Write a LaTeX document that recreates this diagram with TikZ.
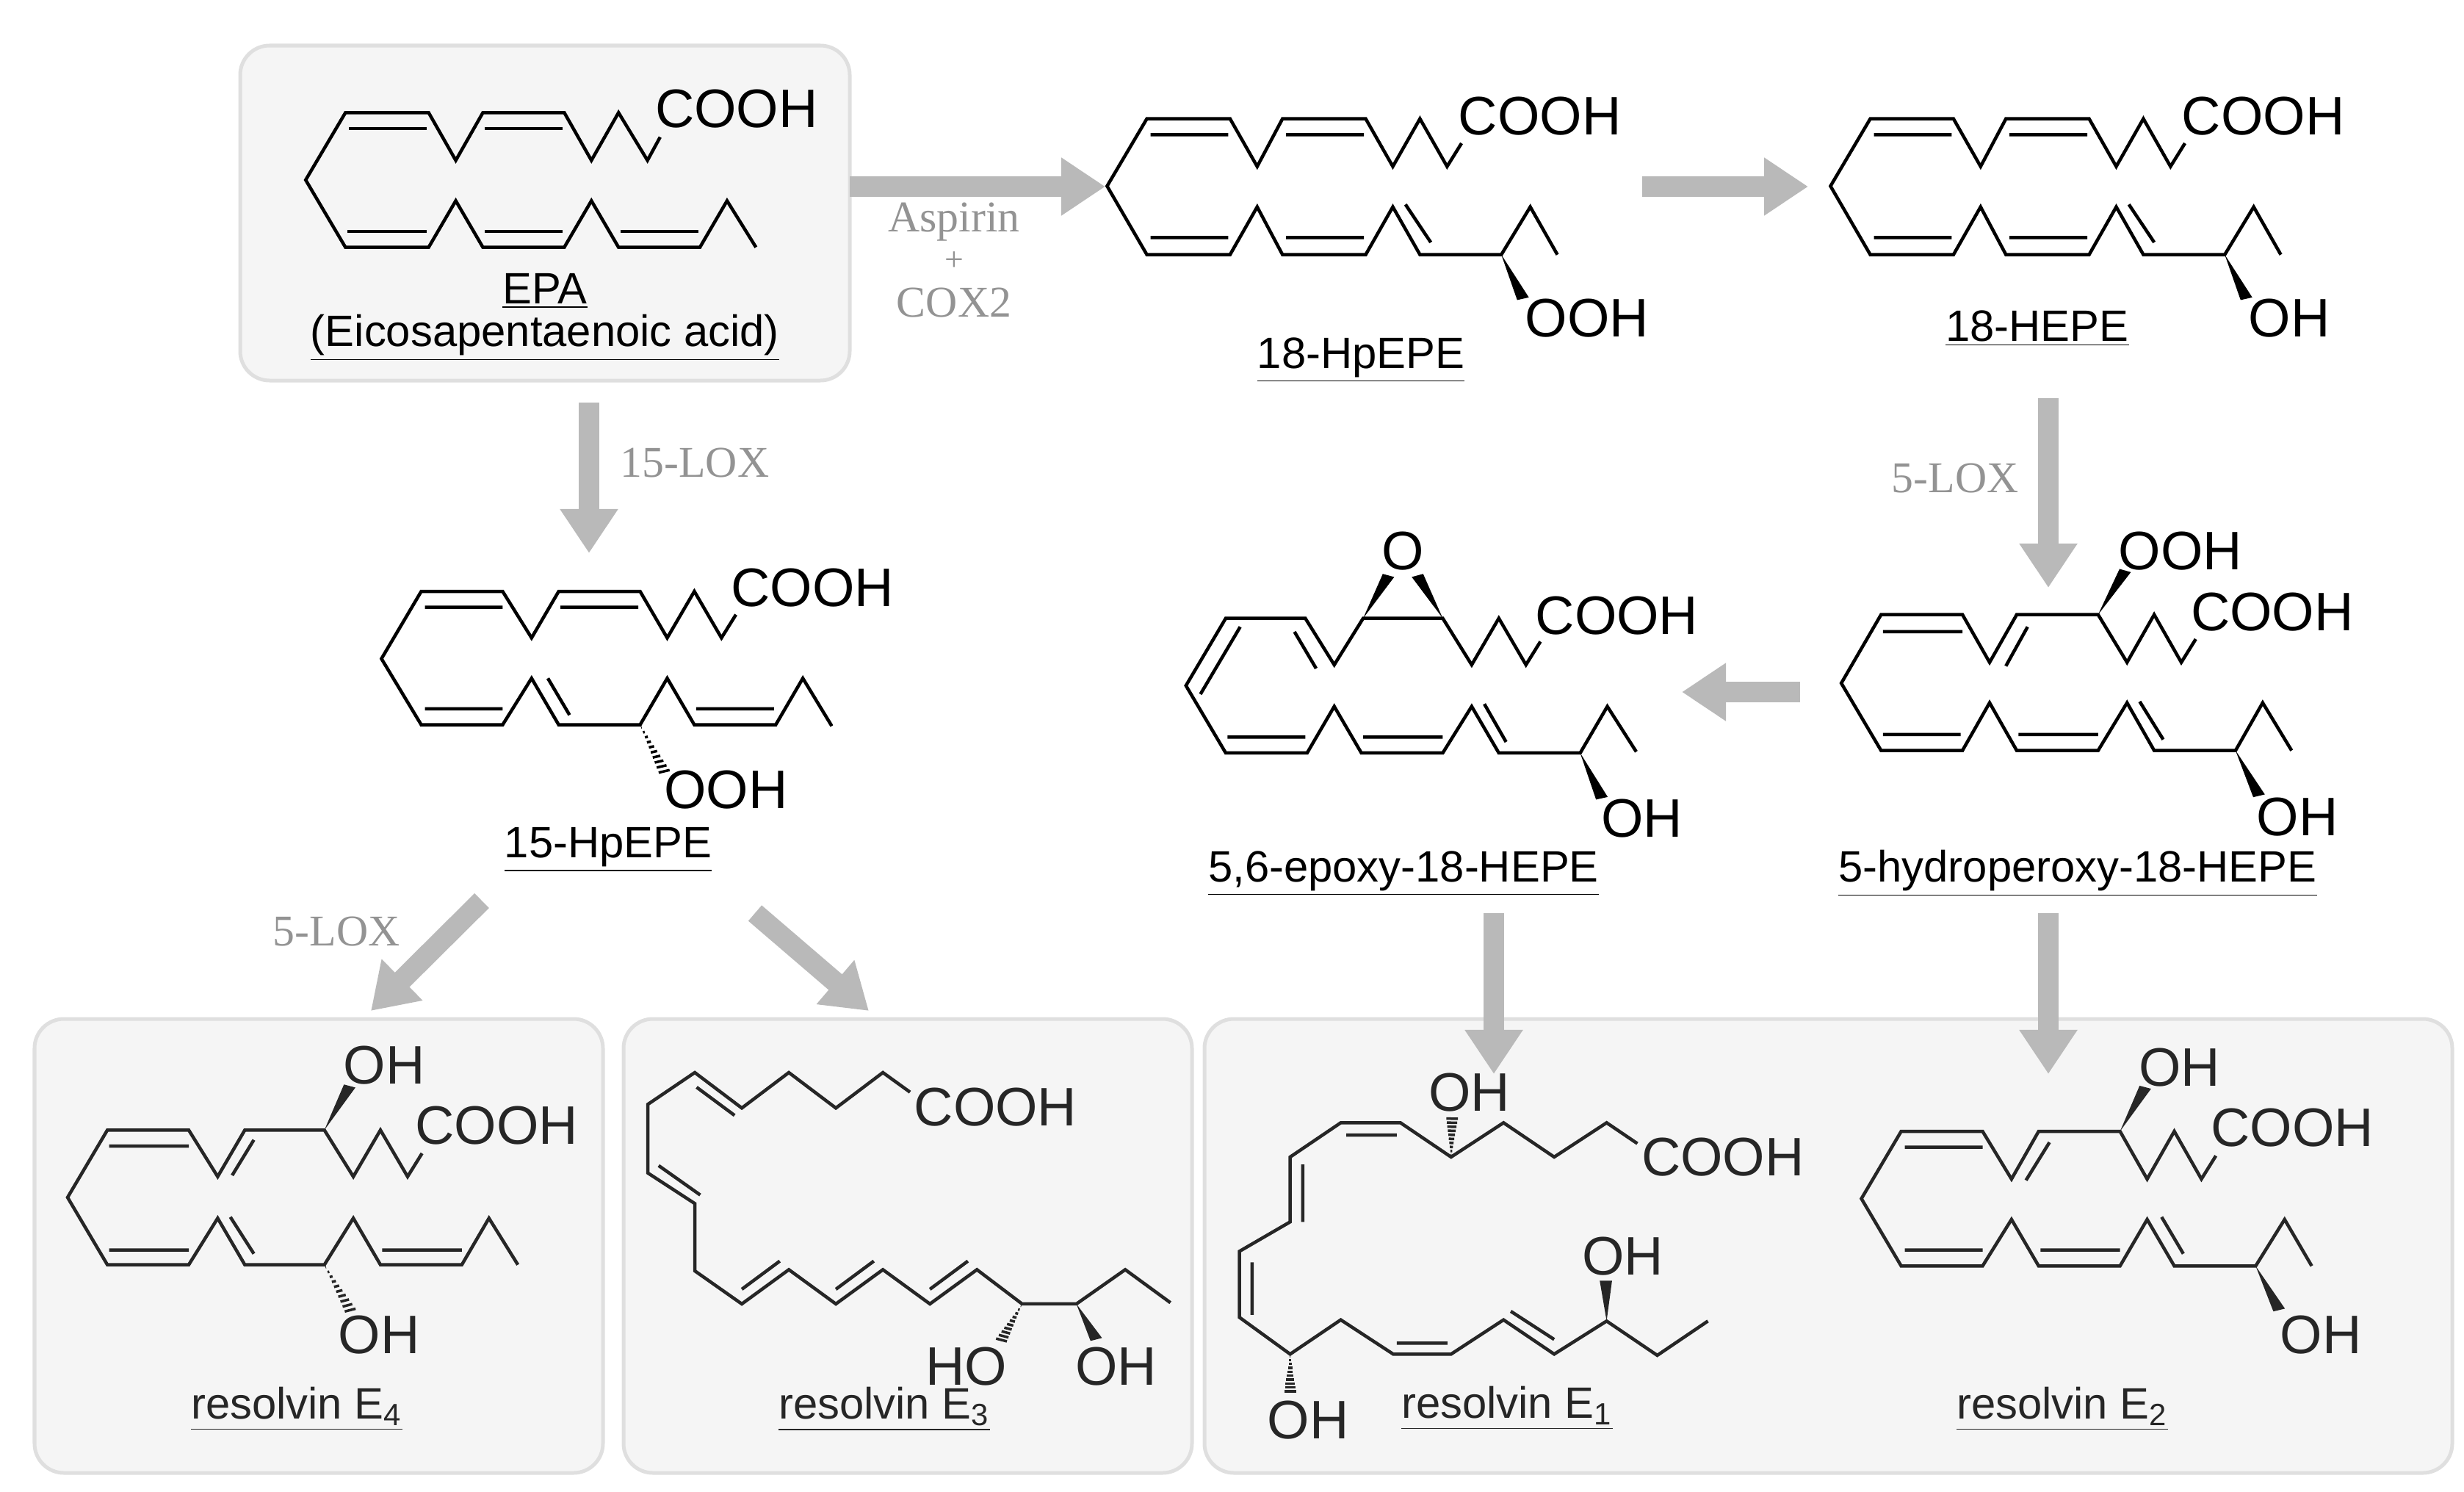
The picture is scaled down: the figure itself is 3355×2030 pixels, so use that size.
\documentclass[tikz,border=0pt]{standalone}
\usepackage{fontspec}
\setmainfont{Liberation Sans}
\newfontfamily\enzfont{Liberation Serif}
\usetikzlibrary{arrows.meta,calc}
\tikzset{bond/.style={line width=0.45mm},
         atom/.style={font=\fontsize{21}{21}\selectfont, inner sep=0pt},
         molname/.style={font=\fontsize{17}{17}\selectfont, inner sep=0pt},
         enzyme/.style={font=\enzfont\fontsize{17}{20}\selectfont, text=gray!85, align=center, inner sep=0pt},
         rxn/.style={draw=gray!55, line width=2.8mm, -{Triangle[width=7.5mm,length=6mm]}},
         panel/.style={fill=gray!8, draw=gray!25, rounded corners=4mm, line width=0.5mm},
         mol/.style={shift={#1}, xscale=0.4925, yscale=0.3333}}
\newcommand{\hashbond}[2]{%
  \coordinate (hA) at (#1); \coordinate (hB) at (#2);
  \foreach \t [evaluate=\t as \w using {\t*4.8}] in {0.05,0.15,...,0.95}
    \draw[line width=0.35mm] ($(hA)!\t!(hB)!\w pt!90:(hB)$) -- ($(hA)!\t!(hB)!\w pt!-90:(hB)$);}
\newcommand{\wedgebond}[2]{%
  \coordinate (wA) at (#1); \coordinate (wB) at (#2);
  \fill (wA) -- ($(wB)!0.17cm!90:(wA)$) -- ($(wB)!0.17cm!-90:(wA)$) -- cycle;}
\begin{document}
\begin{tikzpicture}[x=0.01cm, y=-0.01cm]
  \useasboundingbox (0,0) rectangle (3355,2030);
  % panels
  \draw[panel] (327,62) rectangle (1157,518);
  \draw[panel] (47,1387) rectangle (821,2005);
  \draw[panel] (849,1387) rectangle (1623,2005);
  \draw[panel] (1640,1387) rectangle (3339,2005);
  % reaction steps
  \coordinate (epa-e) at (1157,254);   \coordinate (hp-w) at (1505,254);
  \coordinate (hp-e) at (2236,254);    \coordinate (he-w) at (2462,254);
  \coordinate (epa-s) at (802,548);    \coordinate (lox-n) at (802,753);
  \coordinate (he-s) at (2789,542);    \coordinate (hpo-n) at (2789,800);
  \coordinate (hpo-w) at (2451,942);   \coordinate (epo-e) at (2290,942);
  \coordinate (lox-sw) at (656,1226);  \coordinate (e4-n) at (505,1376);
  \coordinate (lox-se) at (1028,1243); \coordinate (e3-n) at (1183,1376);
  \coordinate (epo-s) at (2034,1243);  \coordinate (e1-n) at (2034,1462);
  \coordinate (hpo-s) at (2789,1243);  \coordinate (e2-n) at (2789,1462);
  \draw[rxn] (epa-e) -- (hp-w);
  \draw[rxn] (hp-e) -- (he-w);
  \draw[rxn] (epa-s) -- (lox-n);
  \draw[rxn] (he-s) -- (hpo-n);
  \draw[rxn] (hpo-w) -- (epo-e);
  \draw[rxn] (lox-sw) -- (e4-n);
  \draw[rxn] (lox-se) -- (e3-n);
  \draw[rxn] (epo-s) -- (e1-n);
  \draw[rxn] (hpo-s) -- (e2-n);
  \node[enzyme] (aspirin) at (1299,302) {Aspirin};
  \node[enzyme, font=\enzfont\fontsize{13}{13}\selectfont] (plus) at (1299,356) {+};
  \node[enzyme] (cox2) at (1299,412) {COX2};
  \node[enzyme] (lox15) at (946,630) {15-LOX};
  \node[enzyme] (lox5a) at (2662,651) {5-LOX};
  \node[enzyme] (lox5b) at (458,1268) {5-LOX};
  % EPA
  \begin{scope}[mol={(330,60)}]
    \draw[bond] (1155,380) -- (1120,475) -- (1040,280) -- (965,475) -- (890,280) -- (665,280) -- (590,475) -- (515,280) -- (285,280) -- (175,555)
      -- (285,830) -- (515,830) -- (590,640) -- (665,830) -- (890,830) -- (965,640) -- (1040,830) -- (1265,830) -- (1340,640) -- (1420,830);
    \draw[bond] (295,345) -- (510,345) (670,345) -- (885,345) (290,765) -- (510,765) (670,765) -- (885,765) (1045,765) -- (1260,765);
    \node[atom, anchor=west] (epa-cooh) at (1140,265) {COOH};
  \end{scope}
  \node[molname] (epa) at (742,396) {\underline{EPA}};
  \node[molname] (epa-full) at (742,460) {\underline{(Eicosapentaenoic acid)}};
  % 18-HpEPE
  \begin{scope}[mol={(1500,100)}]
    \draw[bond] (995,285) -- (955,380) -- (880,185) -- (805,380) -- (730,185) -- (500,185) -- (430,380) -- (355,185) -- (125,185) -- (15,460)
      -- (125,740) -- (355,740) -- (430,545) -- (500,740) -- (730,740) -- (805,545) -- (880,740) -- (1105,740) -- (1185,545) -- (1260,740);
    \draw[bond] (135,250) -- (350,250) (510,250) -- (725,250) (135,670) -- (350,670) (510,670) -- (725,670) (840,535) -- (910,690);
    \wedgebond{1105,740}{1165,920}
    \node[atom, anchor=west] (hp-cooh) at (985,175) {COOH};
    \node[atom, anchor=west] (hp-ooh) at (1170,1000) {OOH};
  \end{scope}
  \node[molname] (hpepe) at (1853,490) {\underline{18-HpEPE}};
  % 18-HEPE
  \begin{scope}[mol={(2485,100)}]
    \draw[bond] (995,285) -- (955,380) -- (880,185) -- (805,380) -- (730,185) -- (500,185) -- (430,380) -- (355,185) -- (125,185) -- (15,460)
      -- (125,740) -- (355,740) -- (430,545) -- (500,740) -- (730,740) -- (805,545) -- (880,740) -- (1105,740) -- (1185,545) -- (1260,740);
    \draw[bond] (135,250) -- (350,250) (510,250) -- (725,250) (135,670) -- (350,670) (510,670) -- (725,670) (840,535) -- (910,690);
    \wedgebond{1105,740}{1165,920}
    \node[atom, anchor=west] (he-cooh) at (985,175) {COOH};
    \node[atom, anchor=west] (he-oh) at (1170,1000) {OH};
  \end{scope}
  \node[molname] (hepe) at (2774,447) {\underline{18-HEPE}};
  % 15-HpEPE
  \begin{scope}[mol={(480,760)}]
    \draw[bond] (1060,230) -- (1020,325) -- (945,135) -- (870,325) -- (795,135) -- (570,135) -- (495,325) -- (415,135) -- (190,135) -- (80,410)
      -- (190,680) -- (415,680) -- (495,490) -- (570,680) -- (795,680) -- (870,490) -- (945,680) -- (1170,680) -- (1245,490) -- (1325,685);
    \draw[bond] (200,200) -- (415,200) (575,200) -- (790,200) (200,615) -- (415,615) (540,490) -- (600,640) (950,615) -- (1165,615);
    \hashbond{795,680}{865,880}
    \node[atom, anchor=west] (lox-cooh) at (1045,120) {COOH};
    \node[atom, anchor=west] (lox-ooh) at (860,945) {OOH};
  \end{scope}
  \node[molname] (hp15) at (828,1157) {\underline{15-HpEPE}};
  % 5,6-epoxy-18-HEPE
  \begin{scope}[mol={(1600,700)}]
    \draw[bond] (1010,520) -- (970,615) -- (895,425) -- (820,615) -- (740,425) -- (520,425) -- (440,615) -- (360,425) -- (140,425) -- (30,700)
      -- (140,975) -- (365,975) -- (440,785) -- (515,975) -- (740,975) -- (820,785) -- (895,975) -- (1120,975) -- (1195,785) -- (1275,970);
    \draw[bond] (180,460) -- (70,735) (330,480) -- (390,630) (145,910) -- (360,910) (520,910) -- (740,910) (855,775) -- (915,930);
    \wedgebond{520,425}{590,250}
    \wedgebond{740,425}{670,250}
    \wedgebond{1120,975}{1180,1160}
    \node[atom] (epo-o) at (630,150) {O};
    \node[atom, anchor=west] (epo-cooh) at (995,415) {COOH};
    \node[atom] (epo-oh) at (1291,1242) {OH};
  \end{scope}
  \node[molname] (epoxy) at (1911,1189) {\underline{5,6-epoxy-18-HEPE}};
  % 5-hydroperoxy-18-HEPE
  \begin{scope}[mol={(2480,700)}]
    \draw[bond] (1035,510) -- (995,605) -- (920,410) -- (845,605) -- (765,410) -- (540,410) -- (465,605) -- (390,410) -- (165,410) -- (55,690)
      -- (165,965) -- (390,965) -- (465,770) -- (540,965) -- (765,965) -- (845,770) -- (920,965) -- (1145,965) -- (1220,770) -- (1300,965);
    \draw[bond] (170,480) -- (390,480) (570,460) -- (510,620) (170,900) -- (385,900) (545,900) -- (765,900) (880,765) -- (945,920);
    \wedgebond{765,410}{840,230}
    \wedgebond{1145,965}{1210,1150}
    \node[atom, anchor=west] (hpo-ooh) at (820,150) {OOH};
    \node[atom, anchor=west] (hpo-cooh) at (1020,400) {COOH};
    \node[atom] (hpo-oh) at (1316,1236) {OH};
  \end{scope}
  \node[molname] (hydroperoxy) at (2829,1189) {\underline{5-hydroperoxy-18-HEPE}};
  % resolvin E4
  \begin{scope}[mol={(60,1400)}, black!85]
    \draw[bond] (1045,510) -- (1005,605) -- (930,415) -- (855,605) -- (775,415) -- (555,415) -- (480,605) -- (400,415) -- (175,415) -- (65,690)
      -- (175,965) -- (400,965) -- (480,775) -- (555,965) -- (775,965) -- (855,775) -- (930,965) -- (1155,965) -- (1230,775) -- (1310,965);
    \draw[bond] (180,480) -- (400,480) (580,455) -- (520,600) (180,905) -- (400,905) (515,770) -- (580,920) (935,905) -- (1155,905);
    \wedgebond{775,415}{845,235}
    \hashbond{775,965}{850,1160}
    \node[atom] (e4-oh1) at (940,150) {OH};
    \node[atom, anchor=west] (e4-cooh) at (1025,395) {COOH};
    \node[atom] (e4-oh2) at (926,1251) {OH};
  \end{scope}
  \node[molname, text=black!85] (rve4) at (404,1918) {\underline{resolvin E\textsubscript{4}}};
  % resolvin E3
  \begin{scope}[mol={(850,1450)}, black!85]
    \draw[bond] (790,110) -- (715,30) -- (585,175) -- (455,30) -- (325,175) -- (195,30) -- (65,160) -- (65,440) -- (195,565) -- (195,840)
      -- (325,975) -- (455,835) -- (585,975) -- (715,835) -- (845,975) -- (975,835) -- (1100,975) -- (1250,975) -- (1385,835) -- (1510,970);
    \draw[bond] (200,90) -- (305,205) (95,410) -- (210,530) (325,915) -- (430,800) (585,915) -- (690,800) (845,915) -- (950,800);
    \hashbond{1100,975}{1040,1130}
    \wedgebond{1250,975}{1305,1120}
    \node[atom, anchor=west] (e3-cooh) at (800,170) {COOH};
    \node[atom] (e3-ho) at (946,1230) {HO};
    \node[atom] (e3-oh) at (1360,1230) {OH};
  \end{scope}
  \node[molname, text=black!85] (rve3) at (1204,1918) {\underline{resolvin E\textsubscript{3}}};
  % resolvin E1
  \begin{scope}[mol={(1700,1450)}, black!85]
    \draw[bond] (1075,320) -- (990,235) -- (845,375) -- (705,235) -- (560,375) -- (420,235) -- (255,235) -- (115,375) -- (115,640) -- (-25,760)
      -- (-25,1030) -- (115,1180) -- (255,1040) -- (400,1180) -- (560,1180) -- (705,1040) -- (845,1180) -- (990,1045) -- (1130,1185) -- (1270,1045);
    \draw[bond] (270,285) -- (410,285) (150,405) -- (150,640) (10,805) -- (10,1020) (410,1135) -- (550,1135) (725,1005) -- (845,1120);
    \hashbond{560,375}{563,210}
    \hashbond{115,1180}{115,1340}
    \wedgebond{990,1045}{988,880}
    \node[atom] (e1-oh1) at (610,110) {OH};
    \node[atom, anchor=west] (e1-cooh) at (1085,375) {COOH};
    \node[atom] (e1-oh2) at (1035,780) {OH};
    \node[atom] (e1-oh3) at (165,1450) {OH};
  \end{scope}
  \node[molname, text=black!85] (rve1) at (2052,1917) {\underline{resolvin E\textsubscript{1}}};
  % resolvin E2
  \begin{scope}[mol={(2500,1420)}, black!85]
    \draw[bond] (1050,460) -- (1010,555) -- (935,360) -- (860,555) -- (785,360) -- (560,360) -- (485,555) -- (405,360) -- (180,360) -- (70,635)
      -- (180,910) -- (405,910) -- (485,720) -- (560,910) -- (785,910) -- (860,720) -- (935,910) -- (1160,910) -- (1240,720) -- (1315,910);
    \draw[bond] (190,425) -- (405,425) (590,405) -- (525,560) (190,845) -- (405,845) (565,845) -- (785,845) (900,710) -- (960,860);
    \wedgebond{785,360}{855,180}
    \wedgebond{1160,910}{1225,1090}
    \node[atom] (e2-oh1) at (950,100) {OH};
    \node[atom, anchor=west] (e2-cooh) at (1035,345) {COOH};
    \node[atom] (e2-oh2) at (1340,1191) {OH};
  \end{scope}
  \node[molname, text=black!85] (rve2) at (2808,1918) {\underline{resolvin E\textsubscript{2}}};
\end{tikzpicture}
\end{document}
